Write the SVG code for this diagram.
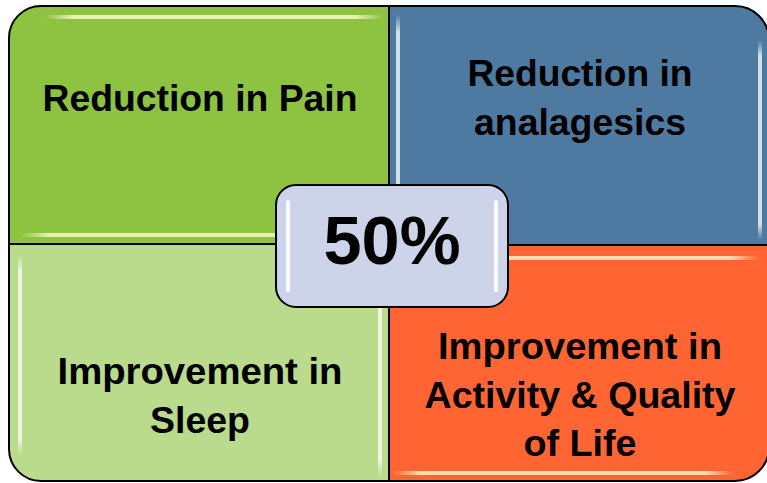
<svg xmlns="http://www.w3.org/2000/svg" width="767" height="483" viewBox="0 0 767 483">
<style>
.q{stroke:#000;stroke-width:2;stroke-linejoin:round}
.t{font-family:"Liberation Sans",Arial,sans-serif;font-weight:bold;font-size:36px;fill:#000;text-anchor:middle}
</style>
<defs>
<linearGradient id="gH" x1="0" y1="0" x2="1" y2="0">
<stop offset="0" stop-color="#fffbd0" stop-opacity="0"/>
<stop offset="0.08" stop-color="#fffbd0" stop-opacity="0.8"/>
<stop offset="0.92" stop-color="#fffbd0" stop-opacity="0.8"/>
<stop offset="1" stop-color="#fffbd0" stop-opacity="0"/>
</linearGradient>
<linearGradient id="gV" x1="0" y1="0" x2="0" y2="1">
<stop offset="0" stop-color="#fff" stop-opacity="0"/>
<stop offset="0.08" stop-color="#fff" stop-opacity="0.75"/>
<stop offset="0.92" stop-color="#fff" stop-opacity="0.75"/>
<stop offset="1" stop-color="#fff" stop-opacity="0"/>
</linearGradient>
</defs>
<rect width="767" height="483" fill="#fff"/>
<g id="pain">
<path class="q" d="M9,244 V38 A32,32 0 0 1 41,6 H389 V244 Z" fill="#8DC340"/>
<rect x="45" y="15" width="338" height="4" fill="url(#gH)"/>
<rect x="20" y="233" width="366" height="4" fill="url(#gH)"/>
<text class="t" x="200" y="111" textLength="315" lengthAdjust="spacingAndGlyphs">Reduction in Pain</text>
</g>
<g id="analgesics">
<path class="q" d="M389,6 H735 A34,34 0 0 1 769,40 V245 H389 Z" fill="#4E7AA1"/>
<rect x="396" y="14" width="4" height="228" fill="url(#gV)"/>
<rect x="758" y="40" width="4" height="200" fill="url(#gV)"/>
<text class="t" x="580" y="86" textLength="225" lengthAdjust="spacingAndGlyphs">Reduction in</text>
<text class="t" x="580" y="135" textLength="212" lengthAdjust="spacingAndGlyphs">analagesics</text>
</g>
<g id="sleep">
<path class="q" d="M9,244 H389 V481 H41 A32,32 0 0 1 9,449 Z" fill="#B9DB8B"/>
<rect x="18" y="255" width="4" height="200" fill="url(#gV)"/>
<rect x="378" y="250" width="4" height="228" fill="url(#gV)"/>
<text class="t" x="200" y="384" textLength="285" lengthAdjust="spacingAndGlyphs">Improvement in</text>
<text class="t" x="200" y="433" textLength="100" lengthAdjust="spacingAndGlyphs">Sleep</text>
</g>
<g id="activity">
<path class="q" d="M389,245 H769 V447 A34,34 0 0 1 735,481 H389 Z" fill="#FF6532"/>
<rect x="393" y="256" width="366" height="4" fill="url(#gH)"/>
<rect x="393" y="471" width="340" height="4" fill="url(#gH)"/>
<text class="t" x="580" y="359" textLength="284" lengthAdjust="spacingAndGlyphs">Improvement in</text>
<text class="t" x="580" y="408" textLength="311" lengthAdjust="spacingAndGlyphs">Activity &amp; Quality</text>
<text class="t" x="580" y="456" textLength="113" lengthAdjust="spacingAndGlyphs">of Life</text>
</g>
<g id="center">
<rect x="276" y="185" width="232" height="122" rx="20" fill="#CDD3E8" stroke="#000" stroke-width="2"/>
<rect x="286" y="200" width="4" height="92" rx="2" fill="#fff" opacity="0.9"/>
<rect x="494" y="200" width="4" height="92" rx="2" fill="#fff" opacity="0.9"/>
<text class="t" x="392" y="264" style="font-size:68px" textLength="137" lengthAdjust="spacingAndGlyphs">50%</text>
</g>
</svg>
